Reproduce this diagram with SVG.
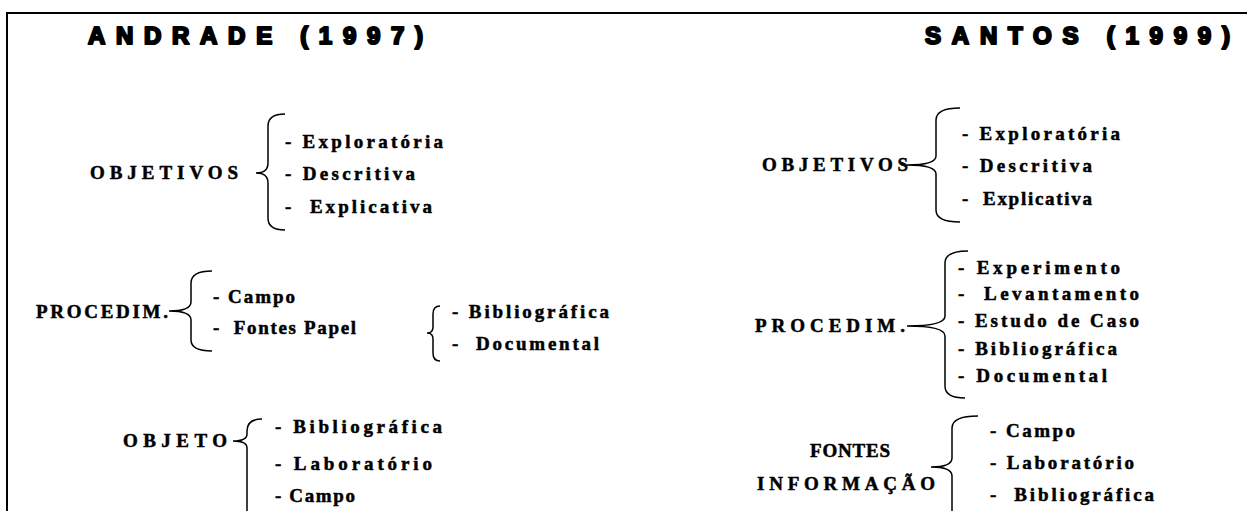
<svg xmlns="http://www.w3.org/2000/svg" width="1247" height="511" viewBox="0 0 1247 511">
<style>
.h{font-family:"Liberation Sans",Arial,sans-serif;font-weight:900;font-size:24px;fill:#000;stroke:#000;stroke-width:2.2;stroke-linejoin:round}
.t{font-family:"Liberation Serif","Times New Roman",serif;font-weight:bold;font-size:19px;fill:#000;stroke:#000;stroke-width:0.5}
.b{fill:none;stroke:#000;stroke-width:1.5}
.f{fill:none;stroke:#000;stroke-width:2}
</style>
<rect width="1247" height="511" fill="#fff"/>
<g id="frame"><path class="f" d="M7 511 V13 H1247"/></g>
<g id="connectors">
<path class="b" d="M285 114 Q268 114 268 126 L268 163 Q268 173 256 173 Q268 173 268 183 L268 218 Q268 230 285 230"/>
<path class="b" d="M212 271 Q191 271 191 283 L191 302 Q191 311 169 311 Q191 311 191 320 L191 340 Q191 351 212 351"/>
<path class="b" d="M440 306 Q433 306 433 314 L433 327 Q433 333 427 333 Q433 333 433 339 L433 353 Q433 361 440 361"/>
<path class="b" d="M262 419 Q247 419 247 431 L247 434 Q247 441 233 441 Q247 441 247 448 L247 520"/>
<path class="b" d="M960 108 Q936 108 936 120 L936 156 Q936 165 907 165 Q936 165 936 174 L936 210 Q936 222 960 222"/>
<path class="b" d="M968 251 Q945 251 945 263 L945 316 Q945 326 907 326 Q945 326 945 336 L945 386 Q945 398 965 398"/>
<path class="b" d="M978 416 Q952 416 952 428 L952 458 Q952 467 931 467 Q952 467 952 476 L952 520"/>
</g>
<g id="andrade"><text class="h" x="88" y="44" textLength="335">ANDRADE (1997)</text></g>
<g id="santos"><text class="h" x="925" y="44" textLength="305">SANTOS (1999)</text></g>
<g id="obj-left">
<text class="t" x="90" y="179" textLength="148">OBJETIVOS</text>
<text class="t" x="285" y="148" textLength="158">- Exploratória</text>
<text class="t" x="285" y="180" textLength="130">- Descritiva</text>
<text class="t" x="285" y="213" textLength="147" xml:space="preserve">-  Explicativa</text>
</g>
<g id="proc-left">
<text class="t" x="36" y="318" textLength="132">PROCEDIM.</text>
<text class="t" x="213" y="303" textLength="82">- Campo</text>
<text class="t" x="213" y="334" textLength="143" xml:space="preserve">-  Fontes Papel</text>
<text class="t" x="452" y="318" textLength="157">- Bibliográfica</text>
<text class="t" x="452" y="350" textLength="147" xml:space="preserve">-  Documental</text>
</g>
<g id="objeto-left">
<text class="t" x="123" y="447" textLength="104">OBJETO</text>
<text class="t" x="275" y="433" textLength="167">- Bibliográfica</text>
<text class="t" x="275" y="470" textLength="157">- Laboratório</text>
<text class="t" x="275" y="502" textLength="80">- Campo</text>
</g>
<g id="obj-right">
<text class="t" x="762" y="171" textLength="146">OBJETIVOS</text>
<text class="t" x="962" y="140" textLength="158">- Exploratória</text>
<text class="t" x="962" y="172" textLength="130">- Descritiva</text>
<text class="t" x="962" y="205" textLength="130" xml:space="preserve">-  Explicativa</text>
</g>
<g id="proc-right">
<text class="t" x="755" y="332" textLength="150">PROCEDIM.</text>
<text class="t" x="958" y="274" textLength="162">- Experimento</text>
<text class="t" x="958" y="300" textLength="181" xml:space="preserve">-  Levantamento</text>
<text class="t" x="958" y="327" textLength="181">- Estudo de Caso</text>
<text class="t" x="958" y="355" textLength="159">- Bibliográfica</text>
<text class="t" x="958" y="382" textLength="149">- Documental</text>
</g>
<g id="fontes-right">
<text class="t" x="810" y="457" textLength="80">FONTES</text>
<text class="t" x="757" y="490" textLength="178">INFORMAÇÃO</text>
<text class="t" x="990" y="437" textLength="85">- Campo</text>
<text class="t" x="990" y="469" textLength="144">- Laboratório</text>
<text class="t" x="990" y="501" textLength="164" xml:space="preserve">-  Bibliográfica</text>
</g>
</svg>
